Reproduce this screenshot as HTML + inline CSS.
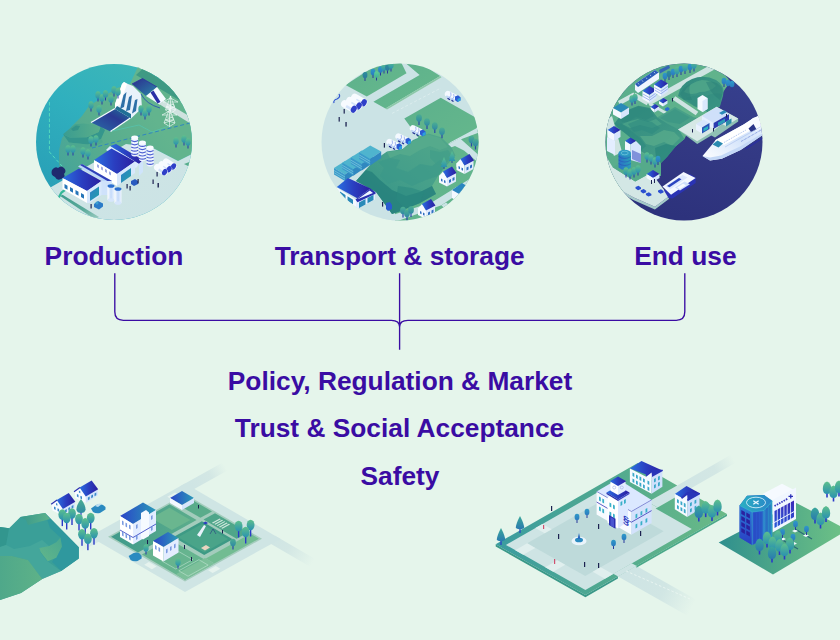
<!DOCTYPE html>
<html><head><meta charset="utf-8"><title>Hydrogen value chain</title>
<style>
html,body{margin:0;padding:0;background:#e5f5eb;}
body{width:840px;height:640px;overflow:hidden;position:relative;font-family:"Liberation Sans",sans-serif;}
svg{position:absolute;left:0;top:0;display:block}
.t{font-family:"Liberation Sans",sans-serif;font-weight:700;font-size:26.3px;fill:#3a0ca3;text-anchor:middle}
</style></head><body>
<svg width="840" height="640" viewBox="0 0 840 640">
<defs>
<clipPath id="c1"><circle cx="114" cy="142" r="78"/></clipPath>
<clipPath id="c2"><circle cx="400" cy="142" r="78.5"/></clipPath>
<clipPath id="c3"><circle cx="684" cy="142" r="78.5"/></clipPath>
<linearGradient id="gWater1" gradientUnits="userSpaceOnUse" x1="130" y1="64" x2="50" y2="200"><stop offset="0" stop-color="#3cb6b8"/><stop offset=".4" stop-color="#30b0be"/><stop offset="1" stop-color="#289eb6"/></linearGradient>
<linearGradient id="gLand1" gradientUnits="userSpaceOnUse" x1="55" y1="170" x2="150" y2="110"><stop offset="0" stop-color="#44a49a"/><stop offset=".45" stop-color="#57ac8e"/><stop offset="1" stop-color="#62b48e"/></linearGradient>
<linearGradient id="gHill1" x1="0" y1="0" x2="1" y2="0"><stop offset="0" stop-color="#3a9c90"/><stop offset="1" stop-color="#5aae8a"/></linearGradient>
<linearGradient id="gChan" x1="0" y1="1" x2="1" y2="0"><stop offset="0" stop-color="#2a6fa8"/><stop offset=".6" stop-color="#2a3a94"/><stop offset="1" stop-color="#1c7a98"/></linearGradient>
<linearGradient id="gRes" x1="0" y1="0" x2="1" y2="1"><stop offset="0" stop-color="#2b2d8e"/><stop offset="1" stop-color="#2a86a8"/></linearGradient>
<linearGradient id="gGround1" x1="0" y1="0" x2="1" y2="1"><stop offset="0" stop-color="#cfe5e5"/><stop offset="1" stop-color="#cbe3e5"/></linearGradient>
<linearGradient id="gSide1" x1="0" y1="0" x2="1" y2="1"><stop offset="0" stop-color="#3f9c8e"/><stop offset=".6" stop-color="#5aaa9a"/><stop offset="1" stop-color="#a0cec4"/></linearGradient>
<linearGradient id="gRoof" x1="0" y1="0" x2="1" y2="0"><stop offset="0" stop-color="#2a6fe0"/><stop offset=".5" stop-color="#2a3ec0"/><stop offset="1" stop-color="#2b1fa0"/></linearGradient>
<linearGradient id="gDoor" x1="0" y1="0" x2="1" y2="1"><stop offset="0" stop-color="#2f7fc8"/><stop offset="1" stop-color="#23a0a8"/></linearGradient>
<linearGradient id="gTank" x1="0" y1="0" x2="1" y2="0"><stop offset="0" stop-color="#ffffff"/><stop offset=".5" stop-color="#c4dafa"/><stop offset="1" stop-color="#eef5ff"/></linearGradient>
<linearGradient id="gTree" x1="0" y1="0" x2="0" y2="1"><stop offset="0" stop-color="#5ec08c"/><stop offset="1" stop-color="#2a92b0"/></linearGradient>
<g id="tree"><rect x="-.5" y="1.5" width="1" height="4" fill="#2a3aa8"/><ellipse cx="0" cy="-1" rx="2.7" ry="3.8" fill="url(#gTree)"/></g>
<linearGradient id="gField" x1="0" y1="0" x2="1" y2="1"><stop offset="0" stop-color="#5cb08c"/><stop offset="1" stop-color="#66b88c"/></linearGradient>
<linearGradient id="gHill2" x1="0" y1="1" x2="1" y2="0"><stop offset="0" stop-color="#2f8f86"/><stop offset=".5" stop-color="#459f8a"/><stop offset="1" stop-color="#52a88a"/></linearGradient>
<linearGradient id="gTreeD" x1="0" y1="0" x2="0" y2="1"><stop offset="0" stop-color="#2f8f9a"/><stop offset="1" stop-color="#2a7aa0"/></linearGradient>
<linearGradient id="gTreeB" x1="0" y1="0" x2="0" y2="1"><stop offset="0" stop-color="#2f9ac8"/><stop offset="1" stop-color="#2a7ac0"/></linearGradient>
<linearGradient id="gTreeG" x1="0" y1="0" x2="0" y2="1"><stop offset="0" stop-color="#5fd094"/><stop offset="1" stop-color="#3fb09a"/></linearGradient>
<g id="treeD"><rect x="-.5" y="1" width="1" height="4" fill="#2a3a9a"/><ellipse cx="0" cy="-1" rx="2.4" ry="3.3" fill="url(#gTreeD)"/></g>
<g id="treeB"><rect x="-.5" y="1" width="1" height="4" fill="#2a3a9a"/><ellipse cx="0" cy="-1" rx="2.4" ry="3.3" fill="url(#gTreeB)"/></g>
<g id="treeG"><rect x="-.5" y="1" width="1" height="4" fill="#2a3a9a"/><ellipse cx="0" cy="-1" rx="2.4" ry="3.3" fill="url(#gTreeG)"/></g>
<g id="treeL"><rect x="-.6" y="2" width="1.2" height="4.5" fill="#2a4aa8"/><ellipse cx="0" cy="-.5" rx="2.9" ry="3.7" fill="url(#gTreeL)"/></g>
<g id="pine"><rect x="-.5" y="3" width="1" height="3" fill="#2a4aa8"/><path d="M0 -6 L3 1 L2 1 L3.3 4 L-3.3 4 L-2 1 L-3 1Z" fill="url(#gTree)"/></g>
<g id="house">
<path d="M0 8 L7 3 L7 0 L0 4.5Z" fill="#fff"/>
<path d="M0 4.5 L4 0 L8 6 L8 15 L0 11Z" fill="#f6faff"/>
<path d="M8 6 L17 1 L17 10 L8 15Z" fill="#dfeafc"/>
<path d="M4 0 L13 -5 L17.5 1.5 L8 6.5Z" fill="url(#gRoof)"/>
<path d="M2 7 l1.5 .8 v2.5 l-1.5 -.8z M5 8.5 l1.5 .8 v2.5 l-1.5 -.8z M10 8.5 l2 -1.1 v3 l-2 1.1z M13.5 6.5 l2 -1.1 v3 l-2 1.1z" fill="#2f6fc0"/>
</g>
<linearGradient id="gSea" gradientUnits="userSpaceOnUse" x1="730" y1="70" x2="690" y2="220"><stop offset="0" stop-color="#36408e"/><stop offset=".5" stop-color="#333984"/><stop offset="1" stop-color="#2d327c"/></linearGradient>
<linearGradient id="gLand3" x1="0" y1="0" x2="1" y2="0"><stop offset="0" stop-color="#58ad8c"/><stop offset="1" stop-color="#62b48c"/></linearGradient>
<linearGradient id="gHill3" x1="0" y1="0" x2="1" y2="1"><stop offset="0" stop-color="#2f897e"/><stop offset=".6" stop-color="#3d9684"/><stop offset="1" stop-color="#4aa288"/></linearGradient>
<linearGradient id="gTeal" x1="0" y1="0" x2="1" y2="0"><stop offset="0" stop-color="#2a6fc8"/><stop offset="1" stop-color="#2aa0b8"/></linearGradient>
<linearGradient id="gShip" x1="0" y1="1" x2="1" y2="0"><stop offset="0" stop-color="#ffffff"/><stop offset=".5" stop-color="#d4e4fb"/><stop offset="1" stop-color="#eef5ff"/></linearGradient>
<linearGradient id="gRoadL" x1="0" y1="0" x2="1" y2="0"><stop offset="0" stop-color="#dcede6"/><stop offset=".5" stop-color="#d6e9e3"/><stop offset="1" stop-color="#e1f2e9"/></linearGradient>
<linearGradient id="gRoadR" x1="0" y1="1" x2="1" y2="0"><stop offset="0" stop-color="#cee4e4"/><stop offset="1" stop-color="#e3f3ea"/></linearGradient>
<linearGradient id="gRoadR2" x1="0" y1="0" x2="1" y2="1"><stop offset="0" stop-color="#cee4e4"/><stop offset="1" stop-color="#e3f3ea"/></linearGradient>
<linearGradient id="gBlock" x1="0" y1="0" x2="1" y2="0"><stop offset="0" stop-color="#4aa58c"/><stop offset="1" stop-color="#62b387"/></linearGradient>
<linearGradient id="gBlockR" x1="0" y1="0" x2="1" y2="0"><stop offset="0" stop-color="#3a9ca0"/><stop offset=".45" stop-color="#4fa890"/><stop offset="1" stop-color="#6aba86"/></linearGradient>
<linearGradient id="gBlockH" x1="0" y1="0" x2="1" y2="0"><stop offset="0" stop-color="#2f8f8e"/><stop offset=".5" stop-color="#4fa888"/><stop offset="1" stop-color="#6cc086"/></linearGradient>
<linearGradient id="gHillBL" x1="0" y1="1" x2="1" y2="0"><stop offset="0" stop-color="#5aad86"/><stop offset=".6" stop-color="#3a9e90"/><stop offset="1" stop-color="#2b9698"/></linearGradient>
<linearGradient id="gRoofT" x1="0" y1="0" x2="1" y2="0"><stop offset="0" stop-color="#2a45c8"/><stop offset="1" stop-color="#2b9ab8"/></linearGradient>
<linearGradient id="gTreeT" x1="0" y1="0" x2="0" y2="1"><stop offset="0" stop-color="#3aa89a"/><stop offset="1" stop-color="#2a7ab0"/></linearGradient>
<g id="treeXL"><rect x="-.7" y="3" width="1.4" height="8.5" fill="#2a3ac8"/><ellipse cx="0" cy="0" rx="3.9" ry="5.3" fill="url(#gTree)"/></g>
<g id="pineXL"><rect x="-.6" y="4" width="1.2" height="5" fill="#2a3ac8"/><path d="M0 -7 Q4.5 -1 4.6 3.5 Q4 7 0 7 Q-4 7 -4.6 3.5 Q-4.5 -1 0 -7Z" fill="url(#gTreeL)"/></g>
<g id="pineT"><rect x="-.6" y="5" width="1.2" height="5" fill="#2a3ac8"/><path d="M0 -7 Q4.2 1 4.2 5 Q0 7.5 -4.2 5 Q-4.2 1 0 -7Z" fill="url(#gTreeT)"/></g>
<linearGradient id="gFadeUR" gradientUnits="userSpaceOnUse" x1="190" y1="484" x2="223" y2="463"><stop offset="0" stop-color="#cfe5e4"/><stop offset=".55" stop-color="#d3e7e4"/><stop offset="1" stop-color="#e5f5eb"/></linearGradient>
<linearGradient id="gFadeDR" gradientUnits="userSpaceOnUse" x1="270" y1="533" x2="315" y2="559"><stop offset="0" stop-color="#cfe5e4"/><stop offset=".45" stop-color="#d3e7e4"/><stop offset="1" stop-color="#e5f5eb"/></linearGradient>
<linearGradient id="gFadeDL" gradientUnits="userSpaceOnUse" x1="100" y1="540" x2="80" y2="551"><stop offset="0" stop-color="#cfe5e4"/><stop offset="1" stop-color="#e5f5eb"/></linearGradient>
<linearGradient id="gLot3" x1="0" y1="0" x2="1" y2="0"><stop offset="0" stop-color="#3f9a8a"/><stop offset="1" stop-color="#5cad8c"/></linearGradient>
<linearGradient id="gFadeR1" gradientUnits="userSpaceOnUse" x1="660" y1="500" x2="733" y2="458"><stop offset="0" stop-color="#cee4e4"/><stop offset=".75" stop-color="#d3e7e4"/><stop offset="1" stop-color="#e5f5eb"/></linearGradient>
<linearGradient id="gFadeR2" gradientUnits="userSpaceOnUse" x1="630" y1="568" x2="695" y2="602"><stop offset="0" stop-color="#cee4e4"/><stop offset=".55" stop-color="#d1e6e4"/><stop offset="1" stop-color="#e5f5eb"/></linearGradient>
<g id="treeXXL"><rect x="-.8" y="3" width="1.6" height="6.5" fill="#2a3ac8"/><path d="M0 -6.5 Q4.3 -5 4.2 1 Q4 6 0 6 Q-4 6 -4.2 1 Q-4.3 -5 0 -6.5Z" fill="url(#gTree)"/></g>
<g id="treeXXLd"><rect x="-.8" y="3" width="1.6" height="6.5" fill="#2a3ac8"/><path d="M0 -6.5 Q4.3 -5 4.2 1 Q4 6 0 6 Q-4 6 -4.2 1 Q-4.3 -5 0 -6.5Z" fill="url(#gTreeT)"/></g>
<linearGradient id="gWin" x1="0" y1="0" x2="0" y2="1"><stop offset="0" stop-color="#3a28b8"/><stop offset="1" stop-color="#2a5ad8"/></linearGradient>
<linearGradient id="gTower" x1="0" y1="0" x2="1" y2="0"><stop offset="0" stop-color="#2a48c8"/><stop offset=".6" stop-color="#2a58cc"/><stop offset="1" stop-color="#2a9cc4"/></linearGradient>
<linearGradient id="gTowerL" x1="0" y1="0" x2="0" y2="1"><stop offset="0" stop-color="#2a80d4"/><stop offset="1" stop-color="#2a3cc4"/></linearGradient>
<linearGradient id="gTowerTop" x1="0" y1="0" x2="1" y2="0"><stop offset="0" stop-color="#2ab0c2"/><stop offset="1" stop-color="#2a84c8"/></linearGradient>
<linearGradient id="gFacet" x1="0" y1="0" x2="1" y2="0"><stop offset="0" stop-color="#38988c"/><stop offset="1" stop-color="#5cb28a"/></linearGradient>
<linearGradient id="gPatch" x1="1" y1="0" x2="0" y2="1"><stop offset="0" stop-color="#4aa890"/><stop offset="1" stop-color="#62b68a"/></linearGradient>
<linearGradient id="gHillLow" x1="0" y1="0" x2="1" y2="0"><stop offset="0" stop-color="#4fa88a"/><stop offset="1" stop-color="#5eb288"/></linearGradient>
<linearGradient id="gTreeL" x1="0" y1="0" x2="0" y2="1"><stop offset="0" stop-color="#4cae92"/><stop offset="1" stop-color="#2f8aa4"/></linearGradient>
</defs>
<rect width="840" height="640" fill="#e5f5eb"/>
<g clip-path="url(#c1)" id="g1">
<rect x="30" y="60" width="170" height="170" fill="url(#gWater1)"/>
<!-- far land (upper right) -->
<path d="M141 60 L130 84 L117 88 L89 106 L82 116 L72 126 L62 138 L59 150 L59 165 L62 177 L64 181 L126 145 L151 147 L178 161 L196 152 L196 60 Z" fill="url(#gLand1)"/>
<!-- dark green band + canal top right -->
<path d="M136 75 L150 62 L200 92 L200 112 Z" fill="#3f9a84"/>
<path d="M150 73 L156 68 L172 78 L166 83 Z" fill="#37b0b0"/>
<path d="M154 71 L157 69 L171 78 L168 80 Z" fill="#5fd0c0" opacity=".6"/>
<!-- hill -->
<path d="M63 134.3 L70 137.5 L86.8 137.3 L98.7 131.9 L100.5 126.5 L105 130 L101 139 L88 144.5 L69 142.5Z" fill="#35968c"/>
<path d="M63 134.3 L74.9 124.2 L83.8 123.6 L93.3 124.8 L100.5 126.5 L98.7 131.9 L86.8 137.3 L70 137.5Z" fill="url(#gHill1)"/>
<path d="M71 129 L76 125.5 L80 126 L78 130 L73 131Z" fill="#2f9088" opacity=".8"/>
<path d="M69 142.5 L88 144.5 L101 139 L103 142 L92 148 L72 147Z" fill="#4aa68e" opacity=".7"/>
<!-- water channel below dam -->
<path d="M91 122.5 L115 108.5 L131 117.5 L110.5 131.5 Z" fill="url(#gChan)"/>
<path d="M91 122.5 L115 108.5" stroke="#f4fbff" stroke-width="1.3" fill="none"/>
<path d="M110.5 131.5 L131 117.5" stroke="#f4fbff" stroke-width="1.3" fill="none"/>
<!-- reservoir -->
<path d="M132 84 L142.5 78.5 L157 87 L146 96 Z" fill="url(#gRes)"/>
<path d="M132 84 L142.5 78.5 L157 87" stroke="#2c2fa0" stroke-width=".8" fill="none"/>
<!-- dam -->
<path d="M122 84 L124 82 L128 84 L133 86 L141 94 L142 108 L131 118.5 L115 109 L115 104 Z" fill="#e9f2fb"/>
<path d="M122 84 L124 82 L127 84 L120 104 L115 108 L115 104Z" fill="#ffffff"/>
<path d="M123.5 95 L126.5 92 L124 107 L120 109Z" fill="#2d6fa6"/>
<path d="M129 97 L132 95 L130 110 L126 111Z" fill="#2d6fa6"/>
<path d="M135 100 L137.5 99 L136 111 L132 113.5Z" fill="#2d6fa6"/>
<path d="M115 109 L131 118.5 L131 114 L117 106Z" fill="#1f6f96"/>
<!-- power house -->
<path d="M146 96 L157 87 L166 99 L159.5 104.5 Z" fill="#f6fbff"/>
<path d="M150.5 92.5 L153.5 90.5 L160.5 102 L157.5 103.5Z" fill="#2a2fa6"/>
<path d="M141 94 Q146 104 160 108" stroke="#2a55b0" stroke-width=".9" fill="none"/>
<!-- road -->
<path d="M159 104 L164 101 L196 120 L196 127 Z" fill="#cfe2df"/>
<!-- pylons -->
<g stroke="#f4fbf9" stroke-width=".7" fill="none" opacity=".95">
<path d="M170.5 96 L165.5 110 L170.5 113.5 L175.5 110 Z M170.5 96 L170.5 113.5 M166.5 107 L174.5 107 M167.5 104 L173.5 104 L166.5 107 M173.5 104 L174.5 107 M163 102 L178 102 L170.5 98 Z M165.5 110 L174.5 107 M175.5 110 L166.5 107"/>
<path d="M169.5 109 L164 123 L169.5 126.5 L175 123 Z M169.5 109 L169.5 126.5 M165.5 120 L173.5 120 M166.5 117 L172.5 117 L165.5 120 M172.5 117 L173.5 120 M162 115 L177 115 L169.5 111 Z M164 123 L173.5 120 M175 123 L165.5 120"/>
</g>
<!-- dashed lines -->
<path d="M49.4 102 V152 L62 166" stroke="#58e0c0" stroke-width=".9" stroke-dasharray="3.5 2" fill="none"/>
<path d="M92 148 L190 123" stroke="#2f86c0" stroke-width="1" stroke-dasharray="4 2.5" fill="none"/>
<path d="M112 131 L139 125 L152 132 L169 126" stroke="#54c8b4" stroke-width=".8" fill="none" opacity=".8"/>
<!-- ground -->
<path d="M30 199 L51.2 187 L126 144 L151 147 L178 161 L190 155 L200 150 L200 230 L30 230 Z" fill="url(#gGround1)"/>
<path d="M184 164 L192 161 L192 168Z" fill="#56ad8c"/>
<path d="M60.2 196 L62.5 194.8 L99 217 L95 219.5Z" fill="url(#gSide1)"/>
<!-- rocks -->
<path d="M52 170 q3 -4 6 -2 q3 -3 6 0 q3 3 0 6 q2 4 -3 5 q-4 2 -6 -2 q-5 -2 -3 -7Z" fill="#1f2a6e"/>
<!-- green pipe -->
<path d="M65.5 189.5 L61.5 192.5 L59 197" stroke="#35b898" stroke-width="2.2" fill="none" stroke-linecap="round"/>
<!-- rear roof strip -->
<path d="M110 146 L116 144 L143 160 L139 164 Z" fill="url(#gRoof)"/>
<path d="M139 164 L143 160 L143 172 L139 176Z" fill="#cfe4fb"/>
<path d="M106 150 L110 146 L139 164 L136 168Z" fill="#dcebff"/>
<!-- building B -->
<path d="M94 160 L111.5 148.5 L135 161.5 L117 174 Z" fill="url(#gRoof)"/>
<path d="M94 160 L117 174 L117 186 L94 171 Z" fill="#ffffff"/>
<path d="M117 174 L135 161.5 L135 173 L117 186 Z" fill="#d8e8fc"/>
<path d="M121 175 L131 168 L131 176 L121 183Z" fill="url(#gDoor)"/>
<path d="M97 164 l2 1.2 v3 l-2 -1.2z M101 166.4 l2 1.2 v3 l-2 -1.2z M105 168.8 l2 1.2 v3 l-2 -1.2z M109 171.2 l2 1.2 v3 l-2 -1.2z" fill="#3c55c4" opacity=".5"/>
<!-- connector strip -->
<path d="M78 166.5 L82 164 L112 181 L108 184 Z" fill="#bcd6fb"/>
<path d="M80 165 L82 164 L112 181 L110 182.5 Z" fill="#2f3fb8"/>
<path d="M101 181 L112 181 L112 195 L101 195Z" fill="#cfe2fb"/>
<!-- building A -->
<path d="M62.5 178 L79 168.5 L101.5 181 L87 191 Z" fill="url(#gRoof)"/>
<path d="M62.5 178 L87 191 L87 203 L62.5 189 Z" fill="#ffffff"/>
<path d="M87 191 L101.5 181 L101.5 195 L89.5 203 L87 203Z" fill="#d8e8fc"/>
<path d="M90 192.5 L99 186.5 L99 195 L90 201Z" fill="url(#gDoor)"/>
<path d="M64.5 184 l3 1.7 v4 l-3 -1.7z M70 187 l3 1.7 v4 l-3 -1.7z M75.5 190 l3 1.7 v4 l-3 -1.7z M81 193 l3 1.7 v4 l-3 -1.7z" fill="#2575b8"/>
<!-- tanks -->
<g>
<rect x="107.5" y="186" width="7" height="14" fill="url(#gTank)"/><ellipse cx="111" cy="200" rx="3.5" ry="1.8" fill="#d6e6fb"/><ellipse cx="111" cy="186" rx="3.5" ry="1.8" fill="#2c6fd0"/>
<rect x="114.5" y="189" width="7" height="14" fill="url(#gTank)"/><ellipse cx="118" cy="203" rx="3.5" ry="1.8" fill="#d6e6fb"/><ellipse cx="118" cy="189" rx="3.5" ry="1.8" fill="#2c6fd0"/>
</g>
<!-- silos -->
<g id="silo">
<rect x="131.2" y="137" width="7" height="19.5" rx="3" fill="#eef4ff"/>
<path d="M131.2 140.6 q3.5 2 7 0 M131.2 143.8 q3.5 2 7 0 M131.2 147 q3.5 2 7 0 M131.2 150.2 q3.5 2 7 0 M131.2 153.4 q3.5 2 7 0" stroke="#4a5fd0" stroke-width="1.2" fill="none"/>
<ellipse cx="134.7" cy="137.6" rx="3.5" ry="2" fill="#f8fbff"/>
</g>
<use href="#silo" x="7.7" y="4.8"/>
<use href="#silo" x="15.4" y="10"/>
<!-- horizontal tanks -->
<defs><g id="htank">
<path d="M164.4 171.9 L157.4 167.4" stroke="#f7fbff" stroke-width="6.8" stroke-linecap="round"/>
<path d="M165.6 174 L158.6 169.5" stroke="#d3e3fb" stroke-width="2.2"/>
<ellipse cx="164.7" cy="172.1" rx="2.4" ry="3.4" transform="rotate(30 164.7 172.1)" fill="#2f3fc8"/>
</g></defs>
<use href="#htank" x="8.7" y="-5.6"/><use href="#htank" x="4.35" y="-2.8"/><use href="#htank"/>
<!-- vehicle -->
<path d="M131 181 l4 -2 l3 2 v3 l-4 2 l-3 -2z" fill="#2a5bc0"/>
<path d="M94 204 l4 -3 l5 2.5 v3 l-4 3 l-5 -2.5z" fill="#2a7bc8"/><circle cx="97" cy="203" r="1.5" fill="#3aa0d0"/>
<!-- people -->
<g fill="#1c2250">
<rect x="126.5" y="184" width="1.2" height="4.5"/><rect x="129.5" y="186" width="1.2" height="4.5"/><rect x="137.5" y="179" width="1.2" height="4.5"/>
<rect x="152.5" y="179.5" width="1.2" height="4.5"/><rect x="157.5" y="183" width="1.4" height="4.5"/><rect x="156.5" y="172" width="1.2" height="4.5"/>
<rect x="90.5" y="204" width="1.2" height="4.5"/>
</g>
<!-- trees -->
<use href="#tree" x="98" y="96"/><use href="#tree" x="102" y="99"/><use href="#tree" x="105.5" y="95"/><use href="#tree" x="111" y="100"/><use href="#tree" x="114" y="91"/><use href="#tree" x="118" y="93"/><use href="#tree" x="91" y="106"/><use href="#tree" x="99" y="110"/>
<use href="#tree" x="141" y="110"/><use href="#tree" x="145" y="114"/><use href="#tree" x="149" y="110"/>
<use href="#tree" x="68" y="150"/><use href="#tree" x="73" y="150"/><use href="#tree" x="83" y="152"/><use href="#tree" x="88" y="154"/><use href="#tree" x="91" y="141"/><use href="#tree" x="96" y="140"/>
<use href="#tree" x="176" y="142"/><use href="#tree" x="184" y="140"/><use href="#tree" x="188" y="143"/>
</g>
<g clip-path="url(#c2)" id="g2">
<rect x="320" y="60" width="170" height="170" fill="#cbe3e5"/>
<!-- green fields -->
<path d="M345.5 85 L384 60 L400 60 L406.5 73.3 L366.8 96.5 Z" fill="url(#gField)"/>
<path d="M373.4 101.8 L419.6 75 L402 60 L415 60 L440.2 76 L385.4 108.5 Z" fill="url(#gField)"/>
<path d="M385.4 108.5 L440.2 76 L441.5 77.2 L387 109.5Z" fill="#8cc8a8"/>
<path d="M404.3 118.4 L440.8 97.8 L474.7 117 L480 124 L476 128.4 L450.8 142 L440 150 L420 140Z" fill="url(#gField)"/>
<path d="M461 139.2 L476.6 130 L490 140 L490 160 L476.6 153.3Z" fill="url(#gField)"/>
<!-- road centre line -->
<path d="M392 113.4 L441 88" stroke="#e4f2f2" stroke-width=".8" stroke-dasharray="3 2" fill="none" opacity=".8"/>
<!-- lower right field with houses -->
<path d="M425 150 L449.8 143.4 L476.6 130 L490 125 L490 230 L395 230 L395 213 Z" fill="url(#gField)"/>
<!-- roads lower right -->
<path d="M440 147 L449.8 143.4 L476.6 129 L480 132 L461 139.2 L476.6 153.3 L480 157 L480 164 L464 150.5 L455 146 L444 150Z" fill="#cbe3e5"/>
<path d="M380 219 L431.6 202.5 L468 180 L480 173 L480 179 L441.4 205.3 L395 222 L380 226Z" fill="#cbe3e5"/>
<path d="M441.4 205.3 L446 202.5 L458 212 L452 216Z" fill="#cbe3e5"/>
<!-- hill -->
<path d="M356 181 L374 160.5 L387 151.5 L402.6 149 L413 140 L428.4 133.5 L441.3 137.3 L451.6 147.6 L455.5 155.4 L447 165 L438 176 L432 186 L436 194 L420 203 L398 212 L392 214 L376 192 Z" fill="url(#gHill2)"/>
<path d="M387 152 L402 150 L413 141 L428 134.5 L440 138 L448 147 L440 150 L430 146 L420 150 L410 156 L400 154 L390 158Z" fill="#57ab8c" opacity=".8"/>
<path d="M378 162 L390 158 L400 160 L396 168 L408 172 L420 164 L432 166 L440 160 L446 164 L438 176 L426 180 L412 186 L400 180 L388 184 L380 176 L384 168Z" fill="#3a9888" opacity=".6"/>
<path d="M356 181 L376 192 L392 214 L398 212 L420 203 L436 194 L432 186 L420 192 L406 196 L392 190 L380 180 L372 172 L366 170Z" fill="#25807c" opacity=".8"/>
<path d="M398 186 L412 188 L424 192 L420 203 L404 208 L396 200Z" fill="#2a8880" opacity=".55"/>
<path d="M430 150 L440 152 L448 150 L452 156 L444 166 L436 164 L430 158Z" fill="#3f9c88" opacity=".6"/>
<!-- containers -->
<g id="cont">
<path d="M334 168 L345 161 L356 167 L345 174.5Z" fill="#4fb4ce"/>
<path d="M334 168 L345 174.5 L345 181 L334 174.5Z" fill="#3a9aca"/>
<path d="M345 174.5 L356 167 L356 173.5 L345 181Z" fill="#3088c0"/>
<path d="M334 170.5 L345 177 M334 172.7 L345 179.2" stroke="#9fdbe6" stroke-width=".5"/>
</g>
<use href="#cont" x="8.4" y="-5.2"/><use href="#cont" x="16.8" y="-10.4"/><use href="#cont" x="25.2" y="-15.6"/>
<!-- warehouse -->
<path d="M336.8 187.5 L356 199.7 L356 208.3 L338.5 197 Z" fill="#f5f9ff"/>
<path d="M356 199.7 L369.9 188.8 L375 192.7 L375 199.5 L357.5 208.8 L356 208.3Z" fill="#e6efff"/>
<path d="M336.8 187 L348 178 L370.5 188.4 L357.2 198.2 Z" fill="url(#gRoof)"/>
<path d="M355.5 199.6 L370.5 188.4 L375.5 192.2 L375.5 193.8 L357.5 202.3Z" fill="#2a2fb0"/>
<path d="M357.5 199.3 L369.8 190.6 L373 193 Z" fill="#eef4ff"/>
<path d="M359 202.5 L365.5 199 L365.5 204.5 L359 208Z M367.5 198 L373.5 194.8 L373.5 200 L367.5 203.2Z" fill="#2a8ab8"/>
<path d="M340 191.5 l5.5 3.5 v4.5 l-5.5 -3.6z M347.5 196.3 l5.5 3.5 v4.5 l-5.5 -3.6z" fill="#2a8ab8"/>
<!-- tanks top-left -->
<defs><g id="htank2">
<path d="M353.5 109 L344.8 104" stroke="#f7fbff" stroke-width="7.6" stroke-linecap="round"/>
<path d="M354.8 111.2 L346.1 106.2" stroke="#d3e3fb" stroke-width="2.6"/>
<ellipse cx="353.8" cy="109.2" rx="2.7" ry="3.8" transform="rotate(30 353.8 109.2)" fill="#2f3fc8"/>
</g></defs><use href="#htank2" x="10" y="-6.4"/><use href="#htank2" x="5" y="-3.2"/><use href="#htank2"/>

<path d="M339 94 q2 3 -2 5 q-4 1 -3 4" stroke="#2f55d0" stroke-width="1.2" fill="none"/>
<!-- tanker trucks -->
<defs><g id="truck">
<path d="M0 0 L7.5 3.9" stroke="#f4f9ff" stroke-width="6.4" stroke-linecap="round"/>
<path d="M-1.2 2.4 L6.3 6.3" stroke="#c4d8f8" stroke-width="1.8" stroke-linecap="round"/>
<path d="M2.7 -1.6 q1.5 2.8 -1.7 5.8 M5.7 0 q1.5 2.8 -1.7 5.8" stroke="#8ea6ec" stroke-width=".8" fill="none"/>
<path d="M7 2.5 L10 1.2 L12.5 3.2 L12.5 6.5 L9.5 8 L7 6.3Z" fill="#2a5ad4"/>
<path d="M9.5 5 L12.5 3.5 L12.5 6.5 L9.5 8Z" fill="#2aa0dc"/>
<path d="M-.5 4.2 l2.5 1.5 M3.5 6.2 l2 1.2" stroke="#1c2a90" stroke-width="1.2"/>
</g></defs>
<use href="#truck" x="448" y="94"/><use href="#truck" x="413" y="128.3"/><use href="#truck" x="398.5" y="136.5"/><use href="#truck" x="389.5" y="142"/>
<!-- forklift -->
<path d="M386 203 l4 -1 l2 3 v4 l-4 2 l-2 -2z" fill="#2a5bd0"/>
<!-- people -->
<g fill="#1c2250">
<rect x="343.6" y="109" width="1.2" height="4.6"/><rect x="338.6" y="117" width="1.2" height="4.6"/><rect x="345.4" y="122" width="1.3" height="4.6"/>
<rect x="383.8" y="143" width="1.2" height="4.6"/><rect x="382" y="202" width="1.2" height="4.6"/>
</g>
<!-- houses -->
<use href="#house" x="439" y="171.5"/>
<use href="#house" x="456.5" y="159"/>
<use href="#house" x="418" y="204"/>
<path d="M452 190 L458 186 L461 188 L461 198 L455 200 L452 198Z" fill="#f3f8ff"/>
<path d="M452 190 L462 183 L470 188 L461 195Z" fill="#2a86c0"/>
<!-- trees -->
<g>
<use href="#treeD" x="365" y="76"/><use href="#treeB" x="373" y="73"/><use href="#treeG" x="376.5" y="75.5"/><use href="#treeB" x="380.5" y="70.5"/><use href="#tree" x="384" y="68"/><use href="#treeD" x="387.5" y="68.5"/><use href="#tree" x="391" y="66"/>
<use href="#treeL" x="419" y="118.5"/><use href="#treeL" x="427" y="122.5"/><use href="#treeL" x="434.8" y="126.5"/><use href="#treeL" x="442" y="131.7"/>
<use href="#treeL" x="403" y="211"/><use href="#treeL" x="407" y="214"/><use href="#treeL" x="411" y="210.5"/>
<use href="#treeL" x="471.5" y="140"/><use href="#treeL" x="475.5" y="143"/>
<use href="#pine" x="444" y="163"/><use href="#pine" x="452" y="157"/>
</g>
</g>
<g clip-path="url(#c3)" id="g3">
<rect x="600" y="60" width="170" height="170" fill="url(#gSea)"/>
<!-- land -->
<path d="M600 60 L717 60 L717 70.6 Q732 78 729 84 Q722 92 720 100 L719.8 106.5 L700 118 L690 128 L684.4 139 L676 146 L666 153 L660.5 163 L660.5 176 L646 176 L612 200 L600 200 Z" fill="url(#gLand3)"/>
<!-- roads -->
<path d="M646.5 100.4 L720.5 59.4 L723.5 64.6 L649.5 105.6Z" fill="#cfe4e2"/>
<path d="M634 95 L648 103" stroke="#cfe4e2" stroke-width="5"/>
<path d="M619 103 L634.5 94.5" stroke="#cfe4e2" stroke-width="4.5"/>
<path d="M674 98 L697 113.5" stroke="#cfe4e2" stroke-width="4.5"/>
<path d="M650 104 L671 116" stroke="#cfe4e2" stroke-width="3"/>
<path d="M606 120 L612 116 L616 130 L622 152 L614 156 L608 140Z" fill="#cfe4e2"/>
<!-- top long building -->
<path d="M635 84 L655 70 L659 73 L659 79 L638 93 L635 90Z" fill="#eef5ff"/>
<path d="M635 84 L655 70 L658.5 72.5 L638 87Z" fill="#2a5ab8"/>
<path d="M639 84.5 l-.9 -1.3 M643 81.7 l-.9 -1.3 M647 78.9 l-.9 -1.3 M651 76.1 l-.9 -1.3 M655 73.3 l-.9 -1.3" stroke="#dfeaff" stroke-width=".7"/>
<path d="M659 70 L669 65 L670 68 L660 73.5Z" fill="#2a55c0" opacity=".8"/>
<!-- apartments -->
<g id="apt">
<path d="M642.5 91 L649.5 86 L656.5 90 L649.5 95Z" fill="url(#gRoof)"/>
<path d="M642.5 91 L649.5 95 L649.5 103 L642.5 99Z" fill="#f3f8ff"/>
<path d="M649.5 95 L656.5 90 L656.5 98 L649.5 103Z" fill="#d6e5fc"/>
<path d="M643 94 L649.5 97.7 M643 96.5 L649.5 100.2 M649.5 97.7 L656.5 92.7 M649.5 100.2 L656.5 95.2" stroke="#6f8fe0" stroke-width=".6"/>
</g>
<use href="#apt" x="11.5" y="-6.5"/>
<!-- small houses -->
<g id="sh"><path d="M650.5 107 L655 104 L659 106.5 L654.5 109.5Z" fill="url(#gRoof)"/><path d="M650.5 107 L654.5 109.5 L654.5 112.5 L650.5 110Z" fill="#f3f8ff"/><path d="M654.5 109.5 L659 106.5 L659 109.5 L654.5 112.5Z" fill="#d6e5fc"/></g>
<use href="#sh" x="8.5" y="-6"/>
<path d="M665 108.5 l2.5 -1.5 l2 1.2 v1.5 l-2.5 1.5 l-2 -1.2z" fill="#2a6fd0"/>
<!-- hills -->
<path d="M657 117.6 L675 107 L694 117.6 L700 118 L690 128 L679 129.5 L668 126Z" fill="#48a088"/>
<path d="M660 118 L675 109 L690 117.5 L680 124 L668 122Z" fill="#3a9484" opacity=".7"/>
<path d="M614.5 123.6 L620 116 L626.4 110.5 L638.3 105.7 L650.2 108 L657.4 117.6 L668 124 L678.8 129.5 L684.4 139 L676 146 L667 157 L661 163 L655 160 L640.7 151 L636 142.6 L626.4 134.3 L617 127Z" fill="url(#gHill3)"/>
<path d="M620 118 L626.4 111.5 L638.3 106.7 L649.5 109 L654 116 L646 120 L636 117 L628 122 L622 122Z" fill="#2f897e" opacity=".7"/>
<path d="M622 124 L630 121 L638 119 L648 122 L656 119 L662 124 L652 128 L640 125 L630 128Z" fill="#4ea68a" opacity=".7"/>
<path d="M628 124 L640 119 L652 122 L660 128 L652 134 L642 130 L634 132Z" fill="#2f8a80" opacity=".6"/>
<path d="M640 136 L652 136 L664 130 L674 132 L680 138 L672 146 L664 142 L654 146 L646 144Z" fill="#5aad8c" opacity=".7"/>
<path d="M655 148 L666 144 L676 146 L667 157 L661 163 L656 158Z" fill="#2a857c" opacity=".75"/>
<path d="M614.5 123.6 L617 127 L626.4 134.3 L636 142.6 L640.7 151 L646 146 L640 138 L630 130 L622 124Z" fill="#2d887e" opacity=".6"/>
<path d="M678 96 Q680 84 692 79 Q704 74 716 80 Q726 86 723 96 L720 106 L708 112 L694 106 L684 100Z" fill="url(#gHill3)"/>
<path d="M684 92 Q690 82 702 80 Q712 80 716 86 Q710 92 700 92 Q692 96 684 92Z" fill="#51a88a" opacity=".8"/>
<path d="M686 98 Q696 94 706 96 Q714 92 722 94 L720 106 L708 112 L694 106Z" fill="#2f8a80" opacity=".55"/>
<path d="M706 82 Q716 80 722 88 Q724 94 720 100 Q714 96 710 90Z" fill="#2a8078" opacity=".5"/>
<path d="M680 94 Q684 86 690 84 Q688 92 692 100 L684 100Z" fill="#2a8078" opacity=".5"/>
<!-- pier -->
<path d="M600 182 L633.8 200.3 L654.9 209.5 L668.9 199 L668.9 196.2 L654.9 206.7 L633.8 197.6 L600 178Z" fill="#a4cac8"/>
<path d="M600 146 L612.7 167.3 L635.2 181.4 L647 175 L652 173.7 L668.9 196.2 L654.9 206.7 L633.8 197.6 L600 179Z" fill="#d3e7e5"/>
<!-- green park near tower -->
<path d="M612.7 167.3 L640 152 L661 163 L661 176 L652 173.7 L647 175 L635.2 181.4Z" fill="#55aa8a"/>
<!-- left buildings -->
<path d="M613 108 L621 103 L629 107.5 L621 112.5Z" fill="#2a8ab8"/><path d="M613 108 L621 112.5 L621 119 L613 114.5Z" fill="#f3f8ff"/><path d="M621 112.5 L629 107.5 L629 114 L621 119Z" fill="#d6e5fc"/>
<path d="M607.5 130 L614 126 L620.5 130 L614 134Z" fill="url(#gRoof)"/><path d="M607.5 130 L614 134 L614 141 L607.5 137Z" fill="#f3f8ff"/><path d="M614 134 L620.5 130 L620.5 137 L614 141Z" fill="#d6e5fc"/>
<path d="M625 141 L630.5 137.5 L636 141 L630.5 144.5Z" fill="url(#gRoof)"/><path d="M625 141 L630.5 144.5 L630.5 160 L625 156.5Z" fill="#f3f8ff"/><path d="M630.5 144.5 L636 141 L641 146 L641 163 L630.5 160Z" fill="#d6e5fc"/>
<path d="M632 150 L641 154 L641 163 L632 159Z" fill="#3a4fc0" opacity=".55"/>
<path d="M607 137 L615 141 L615 155 L607 151Z" fill="#e3eeff"/>
<!-- teal tower -->
<path d="M618.5 153 L631 153 L631 167.5 Q624.75 172.5 618.5 167.5Z" fill="url(#gTeal)"/>
<path d="M618.5 156.5 Q624.75 160.5 631 156.5 M618.5 160 Q624.75 164 631 160 M618.5 163.5 Q624.75 167.5 631 163.5" stroke="#2a4ab8" stroke-width=".7" fill="none" opacity=".7"/>
<ellipse cx="624.75" cy="153" rx="6.25" ry="3.3" fill="#2f9ac4"/>
<ellipse cx="624.75" cy="153" rx="3.5" ry="1.8" fill="none" stroke="#8fd8e8" stroke-width=".5"/>
<!-- tank white -->
<path d="M697.5 98 L702.5 95 L707.5 98 L707.5 109 L702.5 112 L697.5 109Z" fill="#f3f9ff"/>
<path d="M702.5 101 L707.5 98 L707.5 109 L702.5 112Z" fill="#d9e8fc"/>
<!-- terminal platform -->
<path d="M678 129.5 L697.2 144 L711.3 135.4 L715 137.5 L738.2 121.5 L738.2 118.4 L716.6 106.7Z" fill="#8fc0b4"/>
<path d="M678 129.5 L716.6 106.7 L738.2 118.4 L726 126 L722 124 L711.3 132.4 L697.2 141.2Z" fill="#d6e8e6"/>
<path d="M702 116 L716.6 107.3 L729 114.3 L713.6 123Z" fill="#cfe0fa"/>
<path d="M702 116 L713.6 123 L713.6 129 L702 122Z" fill="#e4eeff"/>
<path d="M713.6 123 L729 114.3 L729 120 L713.6 129Z" fill="#2a3ab0"/>
<path d="M718 122.5 L725 118.5 L725 122 L718 126Z" fill="#2a9ab8"/>
<path d="M719 113 L724 110.2 L727 112 L722 114.8Z" fill="#2a8ab8"/>
<path d="M696 124 L703.5 119.5 L709.5 123 L702 127.5Z" fill="#d8e6fc"/>
<path d="M696 124 L702 127.5 L702 133.5 L696 130Z" fill="#eaf2ff"/>
<path d="M702 127.5 L709.5 123 L709.5 129 L702 133.5Z" fill="#2a55b8"/>
<path d="M703.5 128.5 L708 126 L708 129 L703.5 131.5Z" fill="#2ab0c0"/>
<path d="M726 121.5 L731.5 118.5 L731.5 123 L726 126.5Z" fill="#2a8aa8"/>
<!-- small blue-roof building -->
<path d="M646.5 174 L653 170 L659.5 174 L653 178Z" fill="url(#gRoof)"/><path d="M646.5 174 L653 178 L653 182 L646.5 178Z" fill="#f3f8ff"/><path d="M653 178 L659.5 174 L659.5 178 L653 182Z" fill="#d6e5fc"/>
<!-- cars -->
<path d="M635.5 187 l3 -1.2 l2.5 1.7 v1.5 l-3 1.2 l-2.5 -1.7z M640.7 190.2 l3 -1.2 l2.5 1.7 v1.5 l-3 1.2 l-2.5 -1.7z M645.9 193.4 l3 -1.2 l2.5 1.7 v1.5 l-3 1.2 l-2.5 -1.7z M658 190.5 l3 -1.2 l2.5 1.7 v1.5 l-3 1.2 l-2.5 -1.7z" fill="#2a4fd0"/>
<!-- ferry -->
<path d="M668.5 198 L664 190.5 L690 174 L695.6 177.5 L695.6 183 L672.5 198.5Z" fill="#2a33b4"/>
<path d="M662.5 186.5 L683.5 172 L695.6 178 L671 194.8Z" fill="#f3f8ff"/>
<path d="M665.5 186.3 L682.5 175 L687.5 177.5 L670.5 189Z" fill="#dce8fd"/>
<path d="M667 186 L679 178 L681.5 179.3 L669.5 187.3Z" fill="#2a45c0"/>
<path d="M675 187.5 L684.5 181.5 L690 184.3 L680 190.5Z" fill="#cfe0fb"/>
<path d="M677 187.5 L683 183.8 L686 185.3 L680 189Z" fill="#f8fbff"/>
<!-- ship -->
<path d="M702.5 156 L711.3 145.4 L716 139.5 L744 124.3 L752 119 L770 110 L770 131 L762 135.4 L740.6 150 L721.8 158.8 L710 160.6Z" fill="url(#gShip)"/>
<path d="M702.5 156 L710 160.6 L721.8 158.8 L740.6 150 L762 135.4 L770 131 L770 129 L740 146.5 L721 155.5 L710 157.5Z" fill="#c4d8f6"/>
<path d="M745 148.5 L770 132.5 L770 134 L746 149.5Z" fill="#2a2fa0"/>
<path d="M715 140.5 L744 124.3 L752 119 L770 110 L770 120 L724 145Z" fill="#ffffff"/>
<path d="M712.5 144.5 L717.5 140.5 L723 143.5 L718.5 147.5Z" fill="#2a8ab0"/>
<path d="M750 122 Q752 116 758 118 Q763 117 763 123 L763 127 L756 131 L750 127Z" fill="#f8fbff"/>
<path d="M748.5 128.5 L753.5 124 L756.5 129.5 L751 132Z" fill="#2a3588"/>
<path d="M725 147 L770 121.5" stroke="#a9bfec" stroke-width=".6"/>
<path d="M724 142.5 L746 130" stroke="#a9bfec" stroke-width="1" stroke-dasharray="1 1"/>
<path d="M741 141.5 L762 129.5" stroke="#5a75d0" stroke-width=".8" stroke-dasharray=".8 .8"/>
<!-- trees -->
<use href="#tree" x="632" y="100"/><use href="#tree" x="635" y="98.5"/>
<use href="#treeB" x="665" y="77"/><use href="#treeD" x="669" y="75"/><use href="#treeB" x="673" y="73"/><use href="#tree" x="677" y="71.5"/><use href="#treeB" x="681" y="70"/><use href="#tree" x="685" y="68.5"/><use href="#treeB" x="690" y="68"/><use href="#tree" x="694" y="66"/>
<use href="#treeB" x="724" y="82"/><use href="#treeB" x="728" y="84"/><use href="#treeB" x="732" y="85"/>
<use href="#tree" x="647" y="157"/><use href="#tree" x="651" y="159"/><use href="#tree" x="655" y="162"/><use href="#treeB" x="658" y="160"/>
<use href="#tree" x="626" y="172"/><use href="#tree" x="630" y="174"/><use href="#tree" x="634" y="172"/><use href="#tree" x="638" y="170"/>
<g fill="#1c2250"><rect x="651" y="180" width="1" height="4"/><rect x="654" y="179" width="1" height="4"/><rect x="692" y="129" width="1" height="3.5"/><rect x="713" y="128" width="1" height="3.5"/><rect x="726" y="114" width="1" height="3.5"/><rect x="672" y="98" width="1" height="3.5"/></g>
</g>
<path d="M114.8 273.3 V311.8 Q114.8 320.3 123.3 320.3 H391.3 Q399.6 320.3 399.6 327 Q399.6 320.3 407.9 320.3 H676.3 Q684.8 320.3 684.8 311.8 V273.3 M399.6 273.3 V349.8" fill="none" stroke="#3a0ca3" stroke-width="1.35"/>
<text class="t" x="114" y="264.9">Production</text>
<text class="t" x="399.7" y="264.9">Transport &amp; storage</text>
<text class="t" x="685.4" y="264.9">End use</text>
<text class="t" x="400" y="390.3">Policy, Regulation &amp; Market</text>
<text class="t" x="399.5" y="437.3">Trust &amp; Social Acceptance</text>
<text class="t" x="400" y="484.8">Safety</text>
<g id="bl">
<path d="M233.5 456.6 L242.8 462 L188.8 491.9 L179.6 486.5Z" fill="url(#gFadeUR)"/>
<path d="M275.1 535.8 L332.8 569.3 L323.6 574.5 L265.9 540.9Z" fill="url(#gFadeDR)"/>
<path d="M94.9 533.5 L104.1 538.8 L81 551.6 L71.8 546.3Z" fill="url(#gFadeDL)"/>
<path d="M185 483.5 L280.5 538.9 L185 591.9 L89.5 536.5Z" fill="#cfe5e4"/>
<path d="M185 494 L262 538.7 L185 581.4 L108 536.7Z" fill="#a3ccbc"/>
<path d="M185 495.7 L212 511.4 L200.4 517.8 L173.4 502.2Z" fill="#5aac8b"/>
<path d="M215 513.2 L248.1 532.4 L236.6 538.8 L203.5 519.6Z" fill="#4fa68a"/>
<path d="M169.6 504.3 L196.6 519.9 L138 552.4 L111.1 536.7Z" fill="url(#gLot3)"/>
<path d="M201.9 521.3 L232.7 539.2 L204.2 555 L173.5 537.1Z" fill="#3d9a85"/>
<path d="M201.9 523.9 L228.1 539.1 L204.2 552.4 L178.1 537.2Z" fill="#4aa489"/>
<path d="M250.5 533.7 L258.9 538.7 L214.3 563.4 L205.8 558.5Z" fill="#72bc92"/>
<path d="M169.6 539.2 L212.7 564.3 L185 579.7 L141.9 554.6Z" fill="#66b48f"/>
<path d="M205 558.1 L214.3 563.4 L185 579.7 L175.8 574.3Z" fill="#7cc09a"/>
<path d="M178.8 551.6 L192.7 559.6 L175.8 569 L161.9 561Z" fill="none" stroke="#cfeadd" stroke-width=".5"/>
<path d="M198.9 559.7 L208.1 565.1 L188.1 576.2 L178.8 570.8Z" fill="none" stroke="#cfeadd" stroke-width=".5"/>
<path d="M219.7 518.5 L220.8 519.2 L213.1 523.4 L211.9 522.8Z" fill="#cfe6dc"/>
<path d="M222 519.8 L223.1 520.5 L215.4 524.8 L214.3 524.1Z" fill="#cfe6dc"/>
<path d="M224.3 521.2 L225.4 521.8 L217.7 526.1 L216.6 525.4Z" fill="#cfe6dc"/>
<path d="M226.6 522.5 L227.7 523.2 L220 527.4 L218.9 526.8Z" fill="#cfe6dc"/>
<path d="M228.9 523.8 L230 524.5 L222.3 528.8 L221.2 528.1Z" fill="#cfe6dc"/>
<path d="M169.6 507.8 L190.4 519.9 L171.9 530.1 L151.1 518Z" fill="#6ab68f"/>
<path d="M215.8 566.1 L220.4 568.8 L212.7 573 L208.1 570.3Z" fill="#e6f3ee"/>
<path d="M148.8 562.1 L156.5 566.6 L151.9 569.2 L144.2 564.7Z" fill="#e6f3ee"/>
<path d="M175 492.6 L179.6 495.2 L171.9 499.5 L167.3 496.8Z" fill="#e6f3ee"/>
<!-- kiosk -->
<path d="M170 498 L182 491 L194 498 L182 505Z" fill="url(#gRoofT)"/>
<path d="M170 498 L182 505 L182 510 L170 503Z" fill="#f3f8ff"/><path d="M182 505 L194 498 L194 503 L182 510Z" fill="#d6e5fc"/>
<!-- building 1 -->
<path d="M120 516 L143 502.5 L156 510 L133 524Z" fill="url(#gRoofT)"/>
<path d="M120 516 L133 524 L133 544.5 L120 537Z" fill="#ffffff"/>
<path d="M133 524 L156 510 L156 531 L133 544.5Z" fill="#e3edff"/>
<path d="M141 513 L146 510 L149 512.5 L149 536 L143 539.5 L141 538Z" fill="#f6faff"/>
<path d="M120 530 L133 537.5 L156 524" stroke="#2a3ac0" stroke-width=".8" fill="none"/>
<path d="M122 520.5 l1.6 1 v4 l-1.6 -1z M125.5 522.5 l1.6 1 v4 l-1.6 -1z M129 524.5 l1.6 1 v4 l-1.6 -1z M122 531.5 l1.6 1 v4 l-1.6 -1z M125.5 533.5 l1.6 1 v4 l-1.6 -1z M129 535.5 l1.6 1 v4 l-1.6 -1z M136 525 l1.6 -1 v4 l-1.6 1z M151 516 l1.6 -1 v4 l-1.6 1z M136 536 l1.6 -1 v4 l-1.6 1z M151 527 l1.6 -1 v4 l-1.6 1z" fill="#7a9ae0"/>
<!-- building 2 -->
<path d="M153 541 L168 532 L178.5 538 L163.5 547Z" fill="url(#gRoofT)"/>
<path d="M153 541 L163.5 547 L163.5 561.5 L153 555.5Z" fill="#ffffff"/>
<path d="M163.5 547 L178.5 538 L178.5 552.5 L163.5 561.5Z" fill="#e3edff"/>
<path d="M155 545 l1.6 1 v4 l-1.6 -1z M158.5 547 l1.6 1 v4 l-1.6 -1z M166 549.5 l1.6 -1 v4 l-1.6 1z M170 547 l1.6 -1 v4 l-1.6 1z M174 544.5 l1.6 -1 v4 l-1.6 1z" fill="#7a9ae0"/>
<!-- playground bits -->
<path d="M197 535 L204 525 L206 526 L200 537Z" fill="#e8f2fb"/><path d="M203 523 l2.5 -1.5 l2.5 1.5 l-2.5 1.5z" fill="#2a3ac0"/>
<path d="M201 548 l5 -3 l4 2.5 l-5 3z" fill="#e8d4c0"/>
<path d="M210 534 l3 -5 l3 5" stroke="#2a3a80" stroke-width=".6" fill="none"/>
<!-- hill -->
<path d="M0 527 L9.1 528.3 L20.4 517 L45 513 L78.8 547.3 L78.8 558.5 L61.2 571 L42.2 579 L21 593 L0 600Z" fill="#3a9f98"/>
<path d="M45 513 L78.8 547.3 L78.8 558.5 L61.2 571 L52 562 L62 547 L60.5 537.4 L50 528Z" fill="#2f989e"/>
<path d="M20.4 517 L45 513 L50 519 L28 525 L26 520Z" fill="url(#gFacet)"/>
<path d="M0 527 L9.1 528.3 L6 545 L0 547Z" fill="#32968e"/>
<path d="M0 547 L6 545 L14 549 L30 546 L42 540 L49 546 L40 552 L47 561 L61 571 L42.2 579 L28 560 L12 556 L0 558Z" fill="#48a89c" opacity=".75"/>
<path d="M60.5 537.4 L61.9 546.6 L56.3 557.8 L47.8 561.3 L40.8 552.2 L39.4 548 L49.2 545.9 L56.3 542.3Z" fill="url(#gPatch)"/>
<path d="M0 556 L12 556 L28 560 L42.2 579 L21 593 L0 600Z" fill="url(#gHillLow)"/>
<!-- houses -->
<defs><g id="houseBL">
<path d="M51.7 503.5 L56.7 500 L62.9 508.75 L62.9 515.5 L52.5 510.5Z" fill="#f8fbff"/>
<path d="M62.9 508.75 L75 501.7 L75 507.8 L62.9 515.5Z" fill="#d6e5fc"/>
<path d="M56.7 500 L68.75 492.9 L75.3 501.7 L62.9 509Z" fill="url(#gRoof)"/>
<path d="M50.8 503.8 L56.7 499.6 L57.4 500.6 L51.5 504.8Z" fill="#2a2fb0"/>
<path d="M54 506.5 l1.6 .8 v2.6 l-1.6 -.8z M57.5 508.3 l1.6 .8 v2.6 l-1.6 -.8z M56 503 l1.4 .7 v2 l-1.4 -.7z M65 510 l1.8 -1 v2.8 l-1.8 1z M68.3 508 l1.8 -1 v2.8 l-1.8 1z M71.6 506 l1.8 -1 v2.8 l-1.8 1z" fill="#3a8ac8"/>
</g></defs>
<use href="#houseBL" x="22.9" y="-12.5"/><use href="#houseBL"/>
<!-- cars -->
<path d="M91 508.5 l5 -3.5 q4 -1.5 7 0 l2.5 2 v2.5 l-5.5 3.5 q-4 1 -7 -1z" fill="#2a8ac0"/>
<path d="M95 506 l3 -2 q2 -.8 4 0 l-4 3z" fill="#bfe0f0"/>
<path d="M128.6 556 l5 -3 q4 -1 6 .5 l2 2.5 v2.5 l-4 2.5 q-4 1 -7 -1z" fill="#2a8ac0"/>
<!-- trees -->
<use href="#pineXL" x="81" y="506"/>
<use href="#treeXL" x="62.3" y="514.6"/><use href="#treeXL" x="72" y="513.5"/><use href="#treeXL" x="66.7" y="518"/>
<use href="#treeXL" x="79" y="519"/><use href="#treeXL" x="90.7" y="518"/><use href="#treeXL" x="85.2" y="523.4"/>
<use href="#treeXL" x="82" y="534.3"/><use href="#treeXL" x="94" y="533.2"/><use href="#treeXL" x="87.9" y="538.7"/>
<use href="#treeXL" x="238.6" y="526"/><use href="#treeXL" x="250.6" y="525"/><use href="#treeXL" x="245.7" y="532"/><use href="#treeL" x="233" y="543"/>
<use href="#tree" x="178" y="563"/><use href="#tree" x="146" y="549"/>
<g fill="#1c2250"><rect x="184" y="545" width="1" height="4"/><rect x="191" y="557" width="1" height="4"/><rect x="147" y="540" width="1" height="4"/><rect x="222" y="530" width="1" height="3.5"/><rect x="198" y="505" width="1" height="3.5"/></g>
</g>
<g id="br">
<path d="M635.2 509.4 L735.2 452.2 L744.7 457.6 L644.7 514.8Z" fill="url(#gFadeR1)"/>
<path d="M613.2 573.7 L631.7 563.2 L711.7 608.4 L693.2 618.9Z" fill="url(#gFadeR2)"/>
<path d="M495.7 544.3 L637.7 463.1 L677.2 485.4 L648 502.1 L657.5 507.5 L686.3 491 L727 514 L585.4 595Z" fill="url(#gBlockR)"/>
<path d="M495.7 544.3 L585.4 595 L617.9 576.4 L617.9 578.6 L585.4 597.2 L495.7 546.5Z" fill="#3a9888"/>
<path d="M636.4 565.8 L727 514 L727 516 L636.4 567.8Z" fill="#4aa888"/>
<path d="M505.9 544.9 L597.4 492.6 L631.2 511.7 L648 502.1 L657.5 507.5 L655.6 508.6 L691.8 529 L585.4 589.9Z" fill="#cee4e4"/>
<path d="M613.2 573.7 L631.7 563.2 L636.7 566 L618.2 576.6Z" fill="#cee4e4"/>
<path d="M527.2 543.3 L605.7 498.4 L663.7 531.2 L585.2 576.1Z" fill="#bedada"/>
<path d="M515.2 550.2 L527.2 543.3 L535.2 547.9 L523.2 554.7Z" fill="#e0efee"/>
<path d="M545.2 567.2 L557.2 560.3 L565.2 564.8 L553.2 571.7Z" fill="#e0efee"/>
<path d="M535.4 528.1 L542.4 524.1 L551.7 529.3 L544.7 533.3Z" fill="#e0efee"/>
<path d="M592.7 571.8 L600.7 567.2 L612.9 574.1 L604.9 578.7Z" fill="#e0efee"/>
<path d="M626 571 L690 599" stroke="#f0f9f5" stroke-width=".7" stroke-dasharray="2.5 2" fill="none"/>
<!-- top building -->
<path d="M629.9 468.5 L641.5 461 L662.4 470.5 L651.6 476.5Z" fill="url(#gRoof)"/>
<path d="M629.9 468.5 L651.6 479.5 L651.6 493.7 L629.9 482Z" fill="#f6faff"/>
<path d="M651.6 476 L662.4 470 L662.4 486.7 L651.6 493.7Z" fill="#d0e0fb"/>
<path d="M646.5 474.5 L651.6 470.5 L656 474 L651.6 476.5 L651.6 480 L646.5 477.5Z" fill="#f6faff"/>
<path d="M645.5 474.8 L651.6 469.5 L662.8 469.8 L662.8 471 L652 477 L651.6 472.5 L646.5 476.5Z" fill="#2a35b8"/>
<path d="M632.5 472.5 l1.8 1 v3.6 l-1.8 -1z M636 474.4 l1.8 1 v3.6 l-1.8 -1z M639.5 476.3 l1.8 1 v3.6 l-1.8 -1z M643 478.2 l1.8 1 v3.6 l-1.8 -1z M632.5 478.5 l1.8 1 v3.6 l-1.8 -1z M636 480.4 l1.8 1 v3.6 l-1.8 -1z M639.5 482.3 l1.8 1 v3.6 l-1.8 -1z M643 484.2 l1.8 1 v3.6 l-1.8 -1z M647.5 480.5 l1.8 1 v3.6 l-1.8 -1z M647.5 486.5 l1.8 1 v3.6 l-1.8 -1z M654 479 l1.8 -1 v3.6 l-1.8 1z M658 476.8 l1.8 -1 v3.6 l-1.8 1z M654 485 l1.8 -1 v3.6 l-1.8 1z M658 482.8 l1.8 -1 v3.6 l-1.8 1z" fill="#3aa8c8"/>
<!-- right building -->
<path d="M674.8 494 L686.5 486 L699.8 493.2 L687.2 500.7Z" fill="url(#gRoof)"/>
<path d="M674.8 494 L687.2 500.7 L687.2 517 L674.8 509.2Z" fill="#f6faff"/>
<path d="M687.2 500.7 L699.5 493.7 L699.5 509.2 L687.2 517Z" fill="#d0e0fb"/>
<path d="M682 497 L687.2 493 L691.5 496.5 L687.2 499 L687.2 502 L682 499.5Z" fill="#f6faff"/>
<path d="M681 497.3 L687.2 492 L700 493 L700 494.3 L687.6 501.3 L687.2 495 L682 499Z" fill="#2a35b8"/>
<path d="M677 499 l1.8 1 v3.6 l-1.8 -1z M680.5 501 l1.8 1 v3.6 l-1.8 -1z M683.8 502.8 l1.8 1 v3.6 l-1.8 -1z M677 505 l1.8 1 v3.6 l-1.8 -1z M680.5 507 l1.8 1 v3.6 l-1.8 -1z M683.8 508.8 l1.8 1 v3.6 l-1.8 -1z M690 503 l1.8 -1 v3.6 l-1.8 1z M694.5 500.5 l1.8 -1 v3.6 l-1.8 1z M690 509 l1.8 -1 v3.6 l-1.8 1z M694.5 506.5 l1.8 -1 v3.6 l-1.8 1z" fill="#3aa8c8"/>
<!-- town hall -->
<path d="M596.6 491.4 L618 479 L651.6 499.9 L631.4 511.5Z" fill="#dbe8ff"/>
<path d="M596.6 491.4 L631.4 511.5 L631.4 534.7 L596.6 514.6Z" fill="#f8fbff"/>
<path d="M631.4 511.5 L651.6 499.9 L651.6 523.1 L631.4 534.7Z" fill="#d3e2fc"/>
<path d="M596.6 502 L631.4 522.2 L651.6 510.6" stroke="#3a35b8" stroke-width=".8" fill="none"/>
<path d="M596.6 491.4 L631.4 511.5 L651.6 499.9" stroke="#5a55c8" stroke-width=".6" fill="none"/>
<!-- central projecting block -->
<path d="M607.5 497.5 L618 491.5 L618 528.5 L607.5 522.5Z" fill="#ffffff"/>
<path d="M618 503 L628 497.5 L628 521 L618 528.5Z" fill="#dce8ff"/>
<path d="M606.5 492.5 L618 486 L629.5 492.5 L618 499.5Z" fill="url(#gRoof)"/>
<path d="M606.5 492.5 L618 499.5 L618 501 L606.5 494Z" fill="#2a2fa8"/>
<path d="M618 499.5 L629.5 492.5 L629.5 494 L618 501Z" fill="#3a45c0"/>
<!-- clock tower -->
<path d="M610.5 481 L618 485.3 L618 495 L610.5 490.8Z" fill="#ffffff"/>
<path d="M618 485.3 L625.5 481 L625.5 490.8 L618 495Z" fill="#e3edff"/>
<path d="M609.8 481.2 L618 476.5 L626.2 481.2 L618 486Z" fill="url(#gRoof)"/>
<circle cx="614.2" cy="487.5" r="1.5" fill="none" stroke="#8fa0e0" stroke-width=".5"/><circle cx="621.8" cy="487.5" r="1.5" fill="none" stroke="#8fa0e0" stroke-width=".5"/>
<!-- windows -->
<path d="M599 496.5 l1.8 1 v4 l-1.8 -1z M602.3 498.4 l1.8 1 v4 l-1.8 -1z M609.5 502.5 l1.8 1 v4 l-1.8 -1z M613 504.5 l1.8 1 v4 l-1.8 -1z M599 506.5 l1.8 1 v4 l-1.8 -1z M602.3 508.4 l1.8 1 v4 l-1.8 -1z M609.5 511.5 l1.8 1 v4 l-1.8 -1z M613 513.5 l1.8 1 v4 l-1.8 -1z M620.5 502 l1.8 -1 v4 l-1.8 1z M624 500 l1.8 -1 v4 l-1.8 1z M635.5 514.5 l1.8 -1 v4 l-1.8 1z M640.5 511.7 l1.8 -1 v4 l-1.8 1z M645.5 508.9 l1.8 -1 v4 l-1.8 1z M635.5 524.5 l1.8 -1 v4 l-1.8 1z M640.5 521.7 l1.8 -1 v4 l-1.8 1z M645.5 518.9 l1.8 -1 v4 l-1.8 1z" fill="#3ab0c8"/>
<path d="M609 515 l6.5 3.7 v10 l-6.5 -3.7z" fill="#2a2fb0"/>
<path d="M610.5 517 l3.5 2 v8.5 l-3.5 -2z" fill="#4a55d0"/>
<text x="0" y="0" font-family="Liberation Sans,sans-serif" font-weight="700" font-size="11" fill="#2a3ac0" transform="translate(623 522.3) skewY(30)">§</text>
<!-- fountain -->
<ellipse cx="579" cy="541" rx="7.5" ry="4.3" fill="#eaf4fb"/><ellipse cx="579" cy="540" rx="4" ry="2.3" fill="#2a8ac0"/><path d="M577.5 539 l1.5 -6 l1.5 6z" fill="#2a6ac0"/>
<!-- plaza trees -->
<use href="#treeB" x="577" y="518"/><use href="#treeB" x="587" y="513"/><use href="#treeB" x="613.5" y="544"/><use href="#treeB" x="624" y="538"/>
<!-- conifers left -->
<use href="#pineT" x="520" y="523"/><use href="#pineT" x="501" y="535"/>
<!-- trees right -->
<use href="#treeXXLd" x="698.8" y="512"/><use href="#treeXXL" x="705.7" y="507.6"/><use href="#treeXXL" x="712" y="511.5"/><use href="#treeXXL" x="717.5" y="506"/>
<!-- people -->
<g fill="#1c2250"><rect x="551" y="506" width="1.2" height="5"/><rect x="558" y="534" width="1.2" height="5"/><rect x="598" y="524" width="1.2" height="5"/><rect x="640" y="531" width="1.2" height="5"/><rect x="598" y="563" width="1.2" height="5"/><rect x="584" y="562" width="1.2" height="5"/></g>
<g fill="#d05070"><rect x="554" y="559" width="1.2" height="5"/><rect x="543" y="525" width="1.2" height="4"/></g>
<!-- hospital block -->
<path d="M718.7 542.6 L795.4 502.4 L840 526 L840 534.4 L773 574.6 Z" fill="url(#gBlockH)"/>
<!-- hospital white block -->
<path d="M762.5 494 L782 483.75 L796 491 L775.5 502Z" fill="#f6faff"/>
<path d="M772.5 500 L796 487.5 L796 519 L772.5 532.5Z" fill="#f1f7ff"/>
<path d="M774.5 511 L794 500.5 L794 517 L774.5 528Z" fill="url(#gWin)"/>
<path d="M777.3 509 v19 M780.6 507 v19 M783.9 505.3 v19 M787.2 503.5 v19 M790.5 501.8 v19" stroke="#f1f7ff" stroke-width=".8"/>
<path d="M772.5 523.5 L796 510.5" stroke="#f1f7ff" stroke-width="1"/>
<path d="M774.5 506 L788 498.5" stroke="#3a3ac0" stroke-width="1.8" stroke-dasharray="1.6 1"/>
<path d="M788.5 496.3 h4.5 M790.75 494.2 v4.3" stroke="#2a2fb8" stroke-width="1.3"/>
<!-- hex tower -->
<path d="M739.6 505.5 L747 495.8 L764 495 L772.3 501 L772.3 537 L752.2 544.9 L739.6 537.4Z" fill="url(#gTower)"/>
<path d="M739.6 505.5 L752.2 512 L752.2 544.9 L739.6 537.4Z" fill="url(#gTowerL)"/>
<path d="M739.6 505.5 L747 495.8 L764 495 L772.3 501 L764 510.5 L752.2 512Z" fill="url(#gTowerTop)"/>
<path d="M752.2 512 L752.2 544.9 M764 510.5 L764 540 M739.6 505.5 L752.2 512 L764 510.5 L772.3 501" stroke="#3ac0d0" stroke-width=".6" fill="none"/>
<path d="M755 513 v30 M758 512.5 v29 M761 512 v28 M767 508 v30 M770 505 v31" stroke="#2a3ab8" stroke-width=".7" opacity=".6"/>
<ellipse cx="756" cy="502.5" rx="9.5" ry="5.3" fill="none" stroke="#eaf8ff" stroke-width=".8"/>
<path d="M753.3 500.8 l5.4 3.4 M758.7 500.8 l-5.4 3.4" stroke="#eaf8ff" stroke-width="1.3"/>
<path d="M741.3 510 l3.6 1.9 v4 l-3.6 -1.9z M746.3 512.6 l3.6 1.9 v4 l-3.6 -1.9z M741.3 516 l3.6 1.9 v4 l-3.6 -1.9z M746.3 518.6 l3.6 1.9 v4 l-3.6 -1.9z M741.3 522 l3.6 1.9 v4 l-3.6 -1.9z M746.3 524.6 l3.6 1.9 v4 l-3.6 -1.9z M741.3 528 l3.6 1.9 v4 l-3.6 -1.9z M746.3 530.6 l3.6 1.9 v4 l-3.6 -1.9z" fill="#2a22a0"/>
<!-- hedge and planters -->
<path d="M795 529 L812 539 M779 538 L798 549" stroke="#2a6a78" stroke-width="1.2"/>
<g fill="#eef6fa"><path d="M792 531 l3 -1.5 l3 1.5 l-3 1.5z M803 535.5 l3 -1.5 l3 1.5 l-3 1.5z M780 539 l3 -1.5 l3 1.5 l-3 1.5z M791 543.5 l3 -1.5 l3 1.5 l-3 1.5z"/></g>
<use href="#treeB" x="795.5" y="525"/><use href="#treeB" x="806.5" y="530"/><use href="#treeB" x="782.5" y="533"/><use href="#treeB" x="793" y="538"/>
<!-- hospital trees -->
<use href="#treeXXL" x="767" y="538"/><use href="#treeXXL" x="778" y="537"/><use href="#treeXXLd" x="759.5" y="545"/><use href="#treeXXL" x="772.5" y="543"/><use href="#treeXXL" x="790" y="544"/><use href="#treeXXL" x="779.5" y="545.5"/><use href="#treeXXLd" x="772" y="553"/><use href="#treeXXL" x="784.5" y="550"/>
<use href="#treeXXLd" x="815" y="514"/><use href="#treeXXL" x="820.5" y="519"/><use href="#treeXXL" x="826" y="512.5"/>
<use href="#treeXXL" x="827" y="488"/><use href="#treeXXL" x="833.5" y="492"/><use href="#treeXXL" x="839" y="487"/>
</g>
</svg>
</body></html>
